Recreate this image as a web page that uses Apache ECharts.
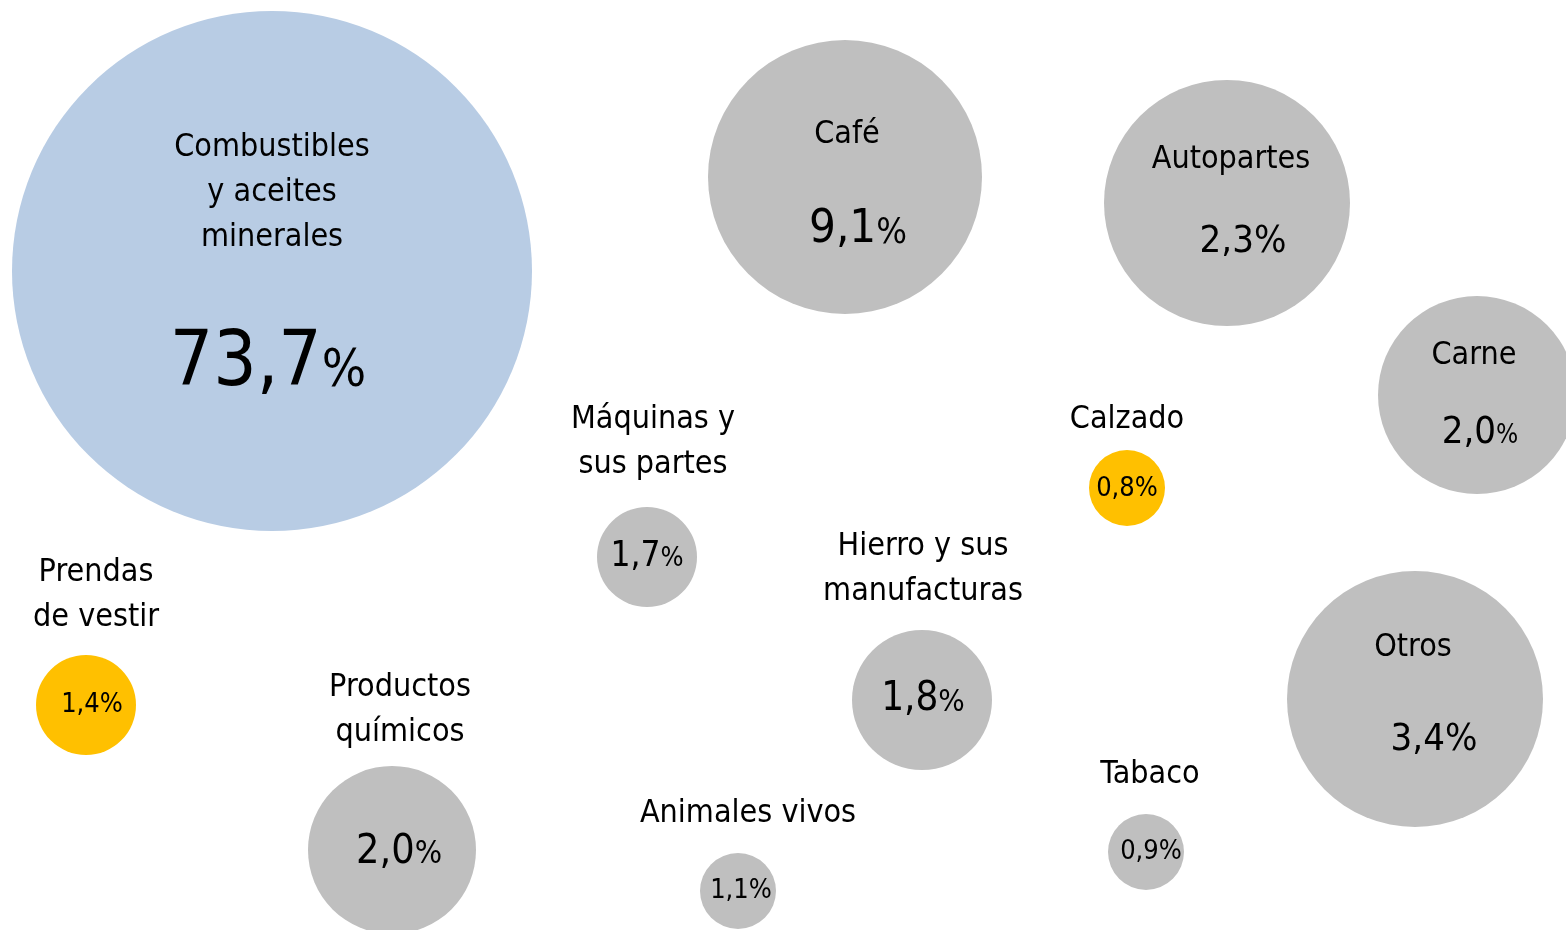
<!DOCTYPE html>
<html>
<head>
<meta charset="utf-8">
<script src="https://cdn.jsdelivr.net/npm/echarts@6/dist/echarts.min.js"></script>
<style>
  html, body { margin: 0; padding: 0; background: #fff; }
  #chart { width: 1566px; height: 930px; }
</style>
</head>
<body>
<div id="chart"></div>
<script>
// datos
const categories = [
  'Combustibles\ny aceites\nminerales', 'Café', 'Autopartes', 'Carne', 'Calzado',
  'Máquinas y\nsus partes', 'Prendas\nde vestir', 'Productos\nquímicos',
  'Hierro y sus\nmanufacturas', 'Animales vivos', 'Tabaco', 'Otros'
];
const shares = [73.7, 9.1, 2.3, 2.0, 0.8, 1.7, 1.4, 2.0, 1.8, 1.1, 0.9, 3.4];

// ubicación de cada burbuja en el plano (unidades del eje)
const posX = [272, 845, 1227, 1477, 1127, 647, 86, 392, 922, 738, 1146, 1415];
const posY = [271, 177, 203, 395, 488, 557, 705, 850, 700, 891, 852, 699];
const diameters = [520, 274, 246, 198, 76, 100, 100, 168, 140, 76, 76, 256];

// estilos
const FONT = '"Liberation Sans Narrow", "Arial Narrow", "DejaVu Sans Condensed", sans-serif';
const colorOf = { mineral: '#B8CCE4', accent: '#FFC000', base: '#BFBFBF' };
const colorGroup = ['mineral', 'base', 'base', 'base', 'accent', 'base', 'accent', 'base', 'base', 'base', 'base', 'base'];
// [tamaño cifra, tamaño %, dx, dy]
const valueStyle = [
  [76, 52, -4, 94], [47, 36, 13, 53], [38, 38, 16, 39], [38, 26, 3, 38],
  [27, 27, 0, 1], [35, 27, 0, 0], [27, 27, 6, 0], [41, 32, 7, 2],
  [40, 31, 1, 0], [27, 27, 3, 0], [27, 27, 5, 0], [38, 38, 19, 41]
];
// [dx, dy] del nombre
const nameOffset = [
  [0, -78], [2, -42], [4, -43], [-3, -39], [0, -68], [6, -115],
  [10, -110], [8, -140], [1, -131], [10, -77], [4, -77], [-2, -51]
];

const fmt = (v) => v.toFixed(1).replace('.', ',');

const bubbleData = shares.map((v, i) => {
  const [nSize, pSize, dx, dy] = valueStyle[i];
  return {
    value: [posX[i], posY[i], v],
    symbolSize: diameters[i],
    itemStyle: { color: colorOf[colorGroup[i]], opacity: 1 },
    label: {
      offset: [dx, dy],
      formatter: '{n|' + fmt(v) + '}{p|%}',
      rich: {
        n: { fontFamily: FONT, fontSize: nSize, color: '#000', lineHeight: nSize, verticalAlign: 'bottom' },
        p: {
          fontFamily: FONT, fontSize: pSize, color: '#000', lineHeight: nSize, verticalAlign: 'bottom',
          padding: [0, 0, Math.round(0.21 * (nSize - pSize)), 0]
        }
      }
    }
  };
});

const nameData = categories.map((c, i) => ({
  value: [posX[i], posY[i]],
  label: { offset: nameOffset[i], formatter: c }
}));

const chart = echarts.init(document.getElementById('chart'));
chart.setOption({
  animation: false,
  grid: { left: 0, right: 0, top: 0, bottom: 0 },
  xAxis: { type: 'value', min: 0, max: 1566, show: false },
  yAxis: { type: 'value', min: 0, max: 930, inverse: true, show: false },
  series: [
    {
      type: 'scatter',
      silent: true,
      clip: false,
      data: bubbleData,
      label: { show: true, position: 'inside', color: '#000' }
    },
    {
      type: 'scatter',
      silent: true,
      clip: false,
      symbolSize: 0,
      itemStyle: { opacity: 1 },
      data: nameData,
      label: {
        show: true,
        position: 'inside',
        fontFamily: FONT,
        fontSize: 32,
        lineHeight: 45,
        color: '#000',
        align: 'center'
      }
    }
  ]
});
</script>
</body>
</html>
